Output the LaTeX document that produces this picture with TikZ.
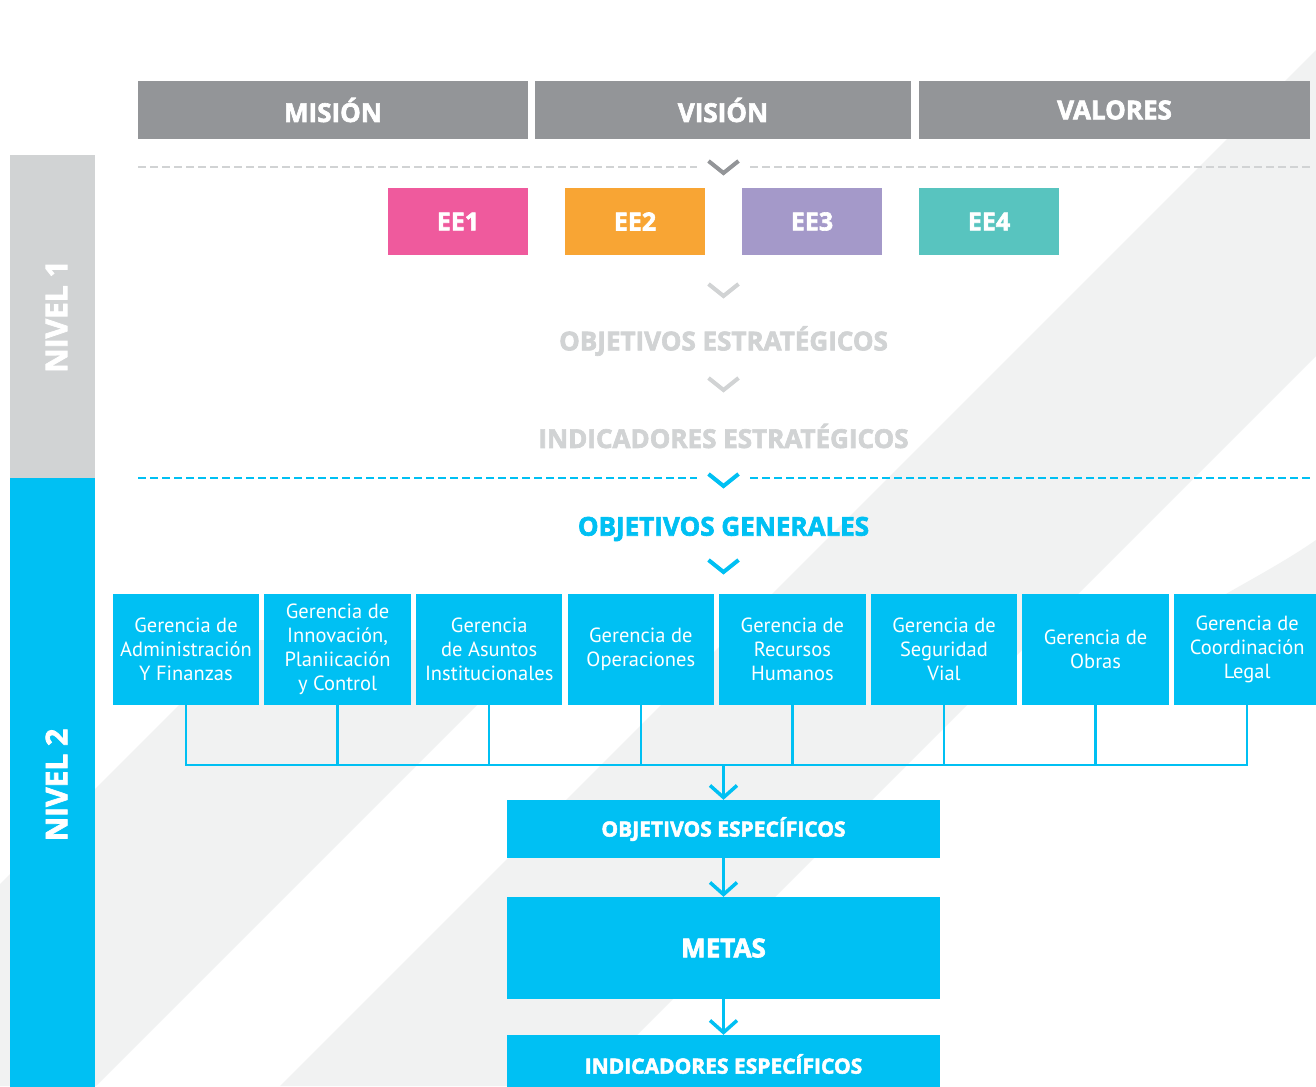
\documentclass[tikz,border=0pt]{standalone}
\usepackage{fontspec}
\setmainfont{PT Sans}
\newfontfamily\headfont{Open Sans}[BoldFeatures={FakeBold=2.5}]
\usetikzlibrary{arrows.meta, positioning}

\definecolor{celeste}{HTML}{00C0F3}
\definecolor{plomo}{HTML}{939598}
\definecolor{gris}{HTML}{D1D3D4}
\definecolor{fondo}{HTML}{F1F2F2}
\definecolor{rosa}{HTML}{EF5A9D}
\definecolor{naranja}{HTML}{F8A534}
\definecolor{lila}{HTML}{A499C9}
\definecolor{turquesa}{HTML}{58C4BF}

\tikzset{
    chevron/.pic={\draw[line width=4pt] (-15,-6) -- (0,6) -- (15,-6);},
}

\begin{document}
\begin{tikzpicture}[x=1pt, y=-1pt,
        titulo/.style={fill=plomo, text=white, minimum height=58pt, inner sep=0pt, font=\headfont\bfseries\fontsize{26}{26}\selectfont},
        eje/.style={minimum width=140pt, minimum height=67pt, inner sep=0pt, text=white, font=\headfont\bfseries\fontsize{25}{25}\selectfont},
        etapa/.style={inner sep=0pt, font=\headfont\bfseries\fontsize{26}{26}\selectfont},
        barra/.style={rotate=90, minimum height=85pt, inner sep=0pt},
        nivel/.style={rotate=90, inner sep=0pt, text=white, font=\headfont\bfseries\fontsize{30}{30}\selectfont},
        gerencia/.style={fill=celeste, text=white, minimum width=146.5pt, minimum height=111pt, inner sep=0pt, align=center, font=\fontsize{20.5}{24}\selectfont},
        bloque/.style={fill=celeste, text=white, minimum width=433pt, inner sep=0pt, font=\headfont\bfseries\fontsize{21}{21}\selectfont},
        linea/.style={celeste, line width=2.5pt},
        flecha/.style={linea, -{Straight Barb[length=12pt, width=27pt, line width=3.5pt]}},
        punteada/.style={line width=2.5pt, dash pattern=on 8pt off 4pt},
    ]
        \useasboundingbox (0,0) rectangle (1316,1086);
        \fill[white] (0,0) rectangle (1316,1086);

        % franjas de fondo
        \fill[fondo] (1316,50) -- (280,1086) -- (586,1086) -- (1316,356) -- cycle;
        \fill[fondo] (0,884) -- (244,640) -- (542,640) -- (96,1086) -- (0,1086) -- cycle;
        \fill[fondo] (1316,540) .. controls (1280,565) and (1240,585) .. (1195,612) -- (1316,612) -- cycle;

        % niveles
        \node[barra, fill=gris, minimum width=323pt] (nivel1) at (52.5,316.5) {};
        \node[barra, fill=celeste, minimum width=620pt] (nivel2) at (52.5,788) {};
        \node[nivel] at ([xshift=4pt]nivel1.center) {NIVEL 1};
        \node[nivel] at ([xshift=4pt,yshift=3pt]nivel2.center) {NIVEL 2};

        % mision, vision y valores
        \node[titulo, minimum width=390pt] (mision) at (333,110) {MISIÓN};
        \node[titulo, minimum width=376pt] (vision) at (723,110) {VISIÓN};
        \node[titulo, minimum width=391pt] (valores) at (1114.5,110) {VALORES};

        \draw[punteada, gris] (138,167) -- (697,167) (750,167) -- (1310,167);
        \pic[color=plomo] at (723.5,167) {chevron};

        % ejes estrategicos
        \node[eje, fill=rosa] (ee1) at (458,221.5) {EE1};
        \node[eje, fill=naranja] (ee2) at (635,221.5) {EE2};
        \node[eje, fill=lila] (ee3) at (812,221.5) {EE3};
        \node[eje, fill=turquesa] (ee4) at (989,221.5) {EE4};

        \pic[color=gris] at (723.5,290) {chevron};
        \node[etapa, text=gris] (objest) at (723.5,341) {OBJETIVOS ESTRATÉGICOS};
        \pic[color=gris] at (723.5,384) {chevron};
        \node[etapa, text=gris] (indest) at (723.5,436) {INDICADORES ESTRATÉGICOS};

        \draw[punteada, celeste] (138,478) -- (697,478) (750,478) -- (1310,478);
        \pic[color=celeste] at (723.5,480) {chevron};
        \node[etapa, text=celeste] (objgen) at (723.5,529) {OBJETIVOS GENERALES};
        \pic[color=celeste] at (723.5,566) {chevron};

        % gerencias
        \node[gerencia] (g1) at (186,649.5) {Gerencia de\\Administración\\Y Finanzas};
        \node[gerencia] (g2) at (337.6,649.5) {Gerencia de\\Innovación,\\Planiicación\\y Control};
        \node[gerencia] (g3) at (489.2,649.5) {Gerencia\\de Asuntos\\Institucionales};
        \node[gerencia] (g4) at (640.8,649.5) {Gerencia de\\Operaciones};
        \node[gerencia] (g5) at (792.4,649.5) {Gerencia de\\Recursos\\Humanos};
        \node[gerencia] (g6) at (944,649.5) {Gerencia de\\Seguridad\\Vial};
        \node[gerencia] (g7) at (1095.6,649.5) {Gerencia de\\Obras};
        \node[gerencia] (g8) at (1247.2,649.5) {Gerencia de\\Coordinación\\Legal};

        \coordinate (bus) at (723.5,765);
        \draw[linea] (g1.south) -- (g1.south |- bus) -- (g8.south |- bus) -- (g8.south);
        \foreach \g in {g2,g3,g4,g5,g6,g7}
            \draw[linea] (\g.south) -- (\g.south |- bus);

        % objetivos, metas e indicadores
        \node[bloque, minimum height=58pt] (objesp) at (723.5,829) {OBJETIVOS ESPECÍFICOS};
        \node[bloque, minimum height=102pt, font=\headfont\bfseries\fontsize{26}{26}\selectfont] (metas) at (723.5,948) {METAS};
        \node[bloque, minimum height=58pt] (indesp) at (723.5,1064) {INDICADORES ESPECÍFICOS};

        \draw[flecha] (bus) -- (objesp);
        \draw[flecha] (objesp) -- (metas);
        \draw[flecha] (metas) -- (indesp);
\end{tikzpicture}
\end{document}
